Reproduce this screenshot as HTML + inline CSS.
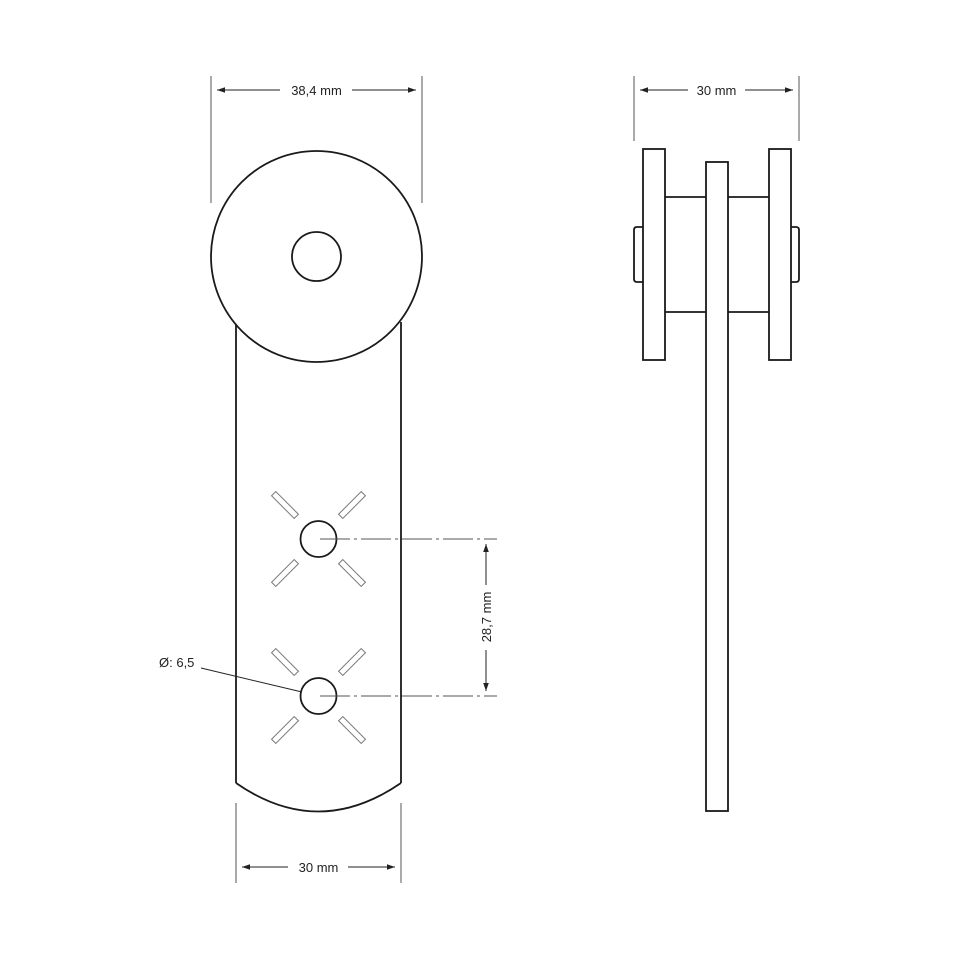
<!DOCTYPE html>
<html><head><meta charset="utf-8"><style>
html,body{margin:0;padding:0;background:#fff;}
svg{display:block}
text{font-family:"Liberation Sans",sans-serif;font-size:13px;fill:#222}
</style></head><body>
<svg width="960" height="960" viewBox="0 0 960 960" xmlns="http://www.w3.org/2000/svg">
<defs>
<marker id="a" viewBox="0 0 10 10" refX="10" refY="5" markerWidth="8" markerHeight="8" orient="auto-start-reverse" markerUnits="userSpaceOnUse"><path d="M0,1.5 L10,5 L0,8.5z" fill="#222"/></marker>
<g id="slots" fill="#fff" stroke="#777" stroke-width="1">
<rect x="-3" y="-16" width="6" height="32" transform="translate(285,505) rotate(-45)"/>
<rect x="-3" y="-16" width="6" height="32" transform="translate(352,505) rotate(45)"/>
<rect x="-3" y="-16" width="6" height="32" transform="translate(285,573) rotate(45)"/>
<rect x="-3" y="-16" width="6" height="32" transform="translate(352,573) rotate(-45)"/>
</g>
</defs>
<g fill="none" stroke="#1a1a1a" stroke-width="1.8">
<line x1="236" y1="322" x2="236" y2="783"/>
<line x1="401" y1="322" x2="401" y2="783"/>
<path d="M236,783 Q318,840 401,783"/>
<circle cx="316.5" cy="256.5" r="105.5" fill="#fff"/>
<circle cx="316.5" cy="256.5" r="24.5"/>
<circle cx="318.5" cy="539" r="18"/>
<circle cx="318.5" cy="696" r="18"/>
<rect x="643" y="149" width="22" height="211"/>
<rect x="769" y="149" width="22" height="211"/>
<rect x="706" y="162" width="22" height="649"/>
<line x1="665" y1="197" x2="706" y2="197"/><line x1="728" y1="197" x2="769" y2="197"/>
<line x1="665" y1="312" x2="706" y2="312"/><line x1="728" y1="312" x2="769" y2="312"/>
<path d="M643,227 H637 Q634,227 634,230 V279 Q634,282 637,282 H643"/>
<path d="M791,227 H796 Q799,227 799,230 V279 Q799,282 796,282 H791"/>
</g>
<use href="#slots"/>
<use href="#slots" transform="translate(0,157)"/>
<g stroke="#555" stroke-width="1" fill="none">
<line x1="211" y1="76" x2="211" y2="203"/><line x1="422" y1="76" x2="422" y2="203"/>
<line x1="634" y1="76" x2="634" y2="141"/><line x1="799" y1="76" x2="799" y2="141"/>
<line x1="236" y1="803" x2="236" y2="883"/><line x1="401" y1="803" x2="401" y2="883"/>
<line x1="320" y1="539" x2="497" y2="539" stroke-dasharray="30,4,3,4"/>
<line x1="320" y1="696" x2="497" y2="696" stroke-dasharray="30,4,3,4"/>
</g>
<g stroke="#222" stroke-width="1" fill="none">
<line x1="217" y1="90" x2="280" y2="90" marker-start="url(#a)"/><line x1="352" y1="90" x2="416" y2="90" marker-end="url(#a)"/>
<line x1="640" y1="90" x2="688" y2="90" marker-start="url(#a)"/><line x1="745" y1="90" x2="793" y2="90" marker-end="url(#a)"/>
<line x1="242" y1="867" x2="288" y2="867" marker-start="url(#a)"/><line x1="348" y1="867" x2="395" y2="867" marker-end="url(#a)"/>
<line x1="486" y1="544" x2="486" y2="585" marker-start="url(#a)"/><line x1="486" y1="650" x2="486" y2="691" marker-end="url(#a)"/>
<line x1="201" y1="668" x2="302" y2="692"/>
</g>
<text x="316.5" y="95" text-anchor="middle">38,4 mm</text>
<text x="716.5" y="95" text-anchor="middle">30 mm</text>
<text x="318.5" y="872" text-anchor="middle">30 mm</text>
<text x="491" y="617" text-anchor="middle" transform="rotate(-90 491 617)">28,7 mm</text>
<text x="159" y="667">Ø: 6,5</text>
</svg>
</body></html>
